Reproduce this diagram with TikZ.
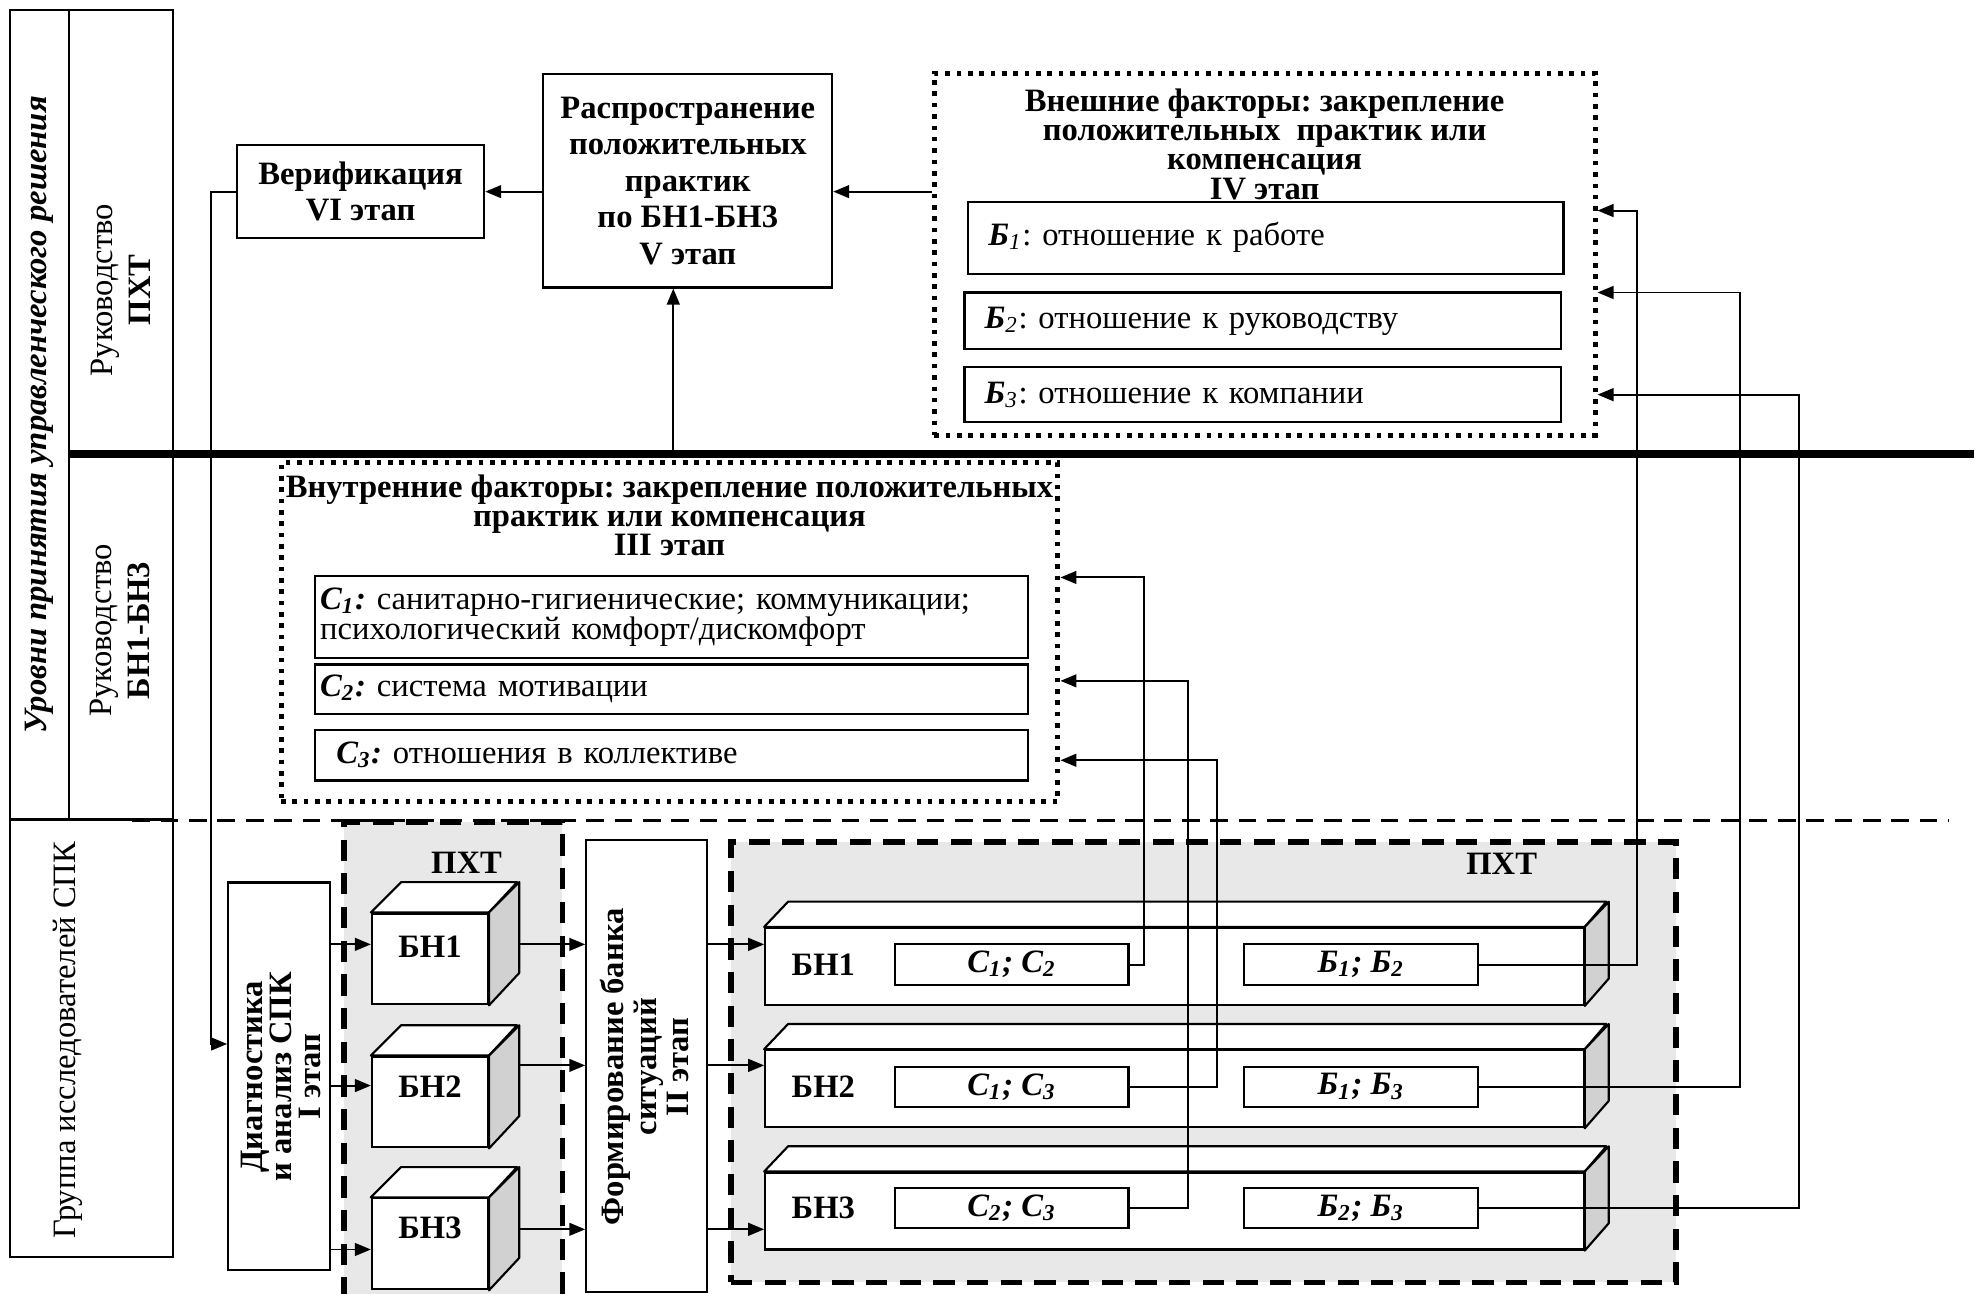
\documentclass[tikz,border=0pt]{standalone}
\usepackage{fontspec}
\setmainfont{Liberation Serif}
\usetikzlibrary{arrows.meta,positioning,calc}
\newcommand{\bisym}[1]{\textbf{\textit{#1}}}
\frenchspacing

\begin{document}
\begin{tikzpicture}[
  x=0.0125cm,y=-0.0125cm,
  font=\fontsize{9.2}{10.3}\selectfont,
  stagebox/.style={draw,line width=0.6pt,align=center,inner sep=0pt,
    font=\fontsize{9.2}{10.3}\selectfont\bfseries},
  factbox/.style={draw,line width=0.6pt,align=left,inner ysep=0pt},
  dotbox/.style={draw,line width=1.4pt,dash pattern=on 1.3pt off 1.9pt},
  zone/.style={draw,fill=black!9,line width=1.6pt,dash pattern=on 6pt off 3.5pt},
  cubefront/.style={draw,fill=white,line width=0.6pt,inner sep=0pt},
  cubetop/.style={draw,fill=white,line width=0.6pt,line join=round},
  cubeside/.style={draw,fill=black!18,line width=0.6pt,line join=round},
  tag/.style={font=\fontsize{9.2}{10.3}\selectfont\bfseries},
  sitbox/.style={draw,fill=white,line width=0.6pt,minimum width=2.3125cm,
    minimum height=0.4cm,inner sep=0pt,font=\fontsize{9.2}{10.3}\selectfont\bfseries\itshape},
  arr/.style={-{Triangle[length=4.5pt,width=3.6pt]},line width=0.55pt},
  sepline/.style={line width=0.9pt,dash pattern=on 5pt off 3pt}
]
  \useasboundingbox (0,0) rectangle (1568,1026);

  % levels column
  \draw[line width=0.6pt] (8,8) rectangle (137,997);
  \draw[line width=0.6pt] (55,8) -- (55,650) (8,650) -- (137,650);
  \node[rotate=90,font=\fontsize{9.2}{10.3}\selectfont\bfseries\itshape] (levels) at (31,329)
    {Уровни принятия управленческого решения};
  \node[rotate=90,align=center,font=\fontsize{9.2}{10.6}\selectfont] (lvlpxt) at (96,230)
    {Руководство\\\textbf{ПХТ}};
  \node[rotate=90,align=center,font=\fontsize{9.2}{10.6}\selectfont] (lvlbn) at (95,500)
    {Руководство\\\textbf{БН1-БН3}};
  \node[rotate=90] (lvlgrp) at (54,825) {Группа исследователей СПК};

  % level borders
  \draw[line width=2.2pt] (55,360) -- (1566,360);
  \draw[sepline] (105,651) -- (1545,651);

  % shaded zones
  \node[zone,minimum width=2.1625cm,minimum height=4.85cm] (zone1) at (359.5,846) {};
  \node[tag] (zone1l) at (370,684) {ПХТ};
  \node[zone,minimum width=9.3625cm,minimum height=4.3625cm] (zone2) at (954.5,842.5) {};
  \node[tag] (zone2l) at (1191,685) {ПХТ};

  % stages V and VI
  \node[stagebox,minimum width=2.45cm,minimum height=0.925cm] (verif) at (286,152)
    {Верификация\\VI этап};
  \node[stagebox,minimum width=2.8625cm,minimum height=2.1125cm] (distr) at (545.5,143.5)
    {Распространение\\положительных\\практик\\по БН1-БН3\\V этап};

  % external factors, stage IV
  \node[dotbox,minimum width=6.55cm,minimum height=3.5875cm] (ext) at (1003,201.5) {};
  \node[font=\fontsize{9.2}{8.2}\selectfont\bfseries,align=center] (extl) at (1003,114.5)
    {Внешние факторы: закрепление\\положительных\ \ практик или\\компенсация\\IV этап};
  \node[factbox,text width=5.5cm,inner xsep=0.2cm,minimum height=0.7125cm] (b1) at (1004,188.5)
    {\bisym{Б}\textsubscript{\textit{1}}: отношение к работе};
  \node[factbox,text width=5.5125cm,inner xsep=0.2cm,minimum height=0.5625cm] (b2) at (1001.5,254.5)
    {\bisym{Б}\textsubscript{\textit{2}}: отношение к руководству};
  \node[factbox,text width=5.5125cm,inner xsep=0.2cm,minimum height=0.55cm] (b3) at (1001.5,313)
    {\bisym{Б}\textsubscript{\textit{3}}: отношение к компании};

  % internal factors, stage III
  \node[dotbox,minimum width=7.7cm,minimum height=3.3625cm] (int) at (531,501.5) {};
  \node[font=\fontsize{9.2}{8.2}\selectfont\bfseries,align=center] (intl) at (531,409)
    {Внутренние факторы: закрепление положительных\\практик или компенсация\\III этап};
  \node[factbox,text width=6.9625cm,inner xsep=0.05cm,minimum height=0.8125cm,
    font=\fontsize{9.2}{8.6}\selectfont] (c1) at (532.5,489.5)
    {\bisym{С\textsubscript{1}:} санитарно-гигиенические; коммуникации;\\психологический комфорт/дискомфорт};
  \node[factbox,text width=6.9625cm,inner xsep=0.05cm,minimum height=0.4875cm] (c2) at (532.5,546.5)
    {\bisym{С\textsubscript{2}:} система мотивации};
  \node[factbox,text width=6.6425cm,inner xsep=0.21cm,minimum height=0.5cm] (c3) at (532.5,599)
    {\bisym{С\textsubscript{3}:} отношения в коллективе};

  % stage I
  \node[draw,line width=0.6pt,minimum width=1.0125cm,minimum height=3.8375cm] (diag) at (221.5,853.5) {};
  \node[rotate=90,align=center,font=\fontsize{9.2}{8.2}\selectfont\bfseries] (diagl) at (223,854)
    {Диагностика\\и анализ СПК\\I этап};

  % cubes
  \node[cubefront,minimum width=1.15cm,minimum height=0.9cm] (cube1) at (341,760.5) {};
  \node[cubefront,minimum width=1.15cm,minimum height=0.9cm] (cube2) at (341,874) {};
  \node[cubefront,minimum width=1.15cm,minimum height=0.9cm] (cube3) at (341,986.5) {};
  \foreach \c in {cube1,cube2,cube3}{
    \draw[cubetop] (\c.north west) -- ++(24,-24) -- ++(92,0) -- (\c.north east) -- cycle;
    \draw[cubeside] (\c.north east) -- ++(24,-24) -- ++(0,72) -- (\c.south east) -- cycle;
  }
  \node[tag] (cube1l) at (341,751) {БН1};
  \node[tag] (cube2l) at (341,862) {БН2};
  \node[tag] (cube3l) at (341,974) {БН3};

  % stage II
  \node[draw,line width=0.6pt,minimum width=1.2cm,minimum height=4.4875cm] (form) at (513,845.5) {};
  \node[rotate=90,align=center,font=\fontsize{9.2}{7}\selectfont\bfseries] (forml) at (511,846)
    {Формирование банка\\ситуаций\\II этап};

  % situation bank
  \node[cubefront,minimum width=8.1125cm,minimum height=0.7625cm] (long1) at (931.5,766.5) {};
  \node[cubefront,minimum width=8.1125cm,minimum height=0.7625cm] (long2) at (931.5,863.5) {};
  \node[cubefront,minimum width=8.1125cm,minimum height=0.7625cm] (long3) at (931.5,960.5) {};
  \foreach \c in {long1,long2,long3}{
    \draw[cubetop] (\c.north west) -- ++(19,-20) -- ++(649,0) -- (\c.north east) -- cycle;
    \draw[cubeside] (\c.north east) -- ++(19,-20) -- ++(0,61) -- (\c.south east) -- cycle;
  }
  \node[tag] (long1l) at (653,765) {БН1};
  \node[tag] (long2l) at (653,862) {БН2};
  \node[tag] (long3l) at (653,958) {БН3};
  \node[sitbox] (s1c) at (802.5,765) {С\textsubscript{1}; С\textsubscript{2}};
  \node[sitbox] (s1b) at (1079.5,765) {Б\textsubscript{1}; Б\textsubscript{2}};
  \node[sitbox] (s2c) at (802.5,862) {С\textsubscript{1}; С\textsubscript{3}};
  \node[sitbox] (s2b) at (1079.5,862) {Б\textsubscript{1}; Б\textsubscript{3}};
  \node[sitbox] (s3c) at (802.5,958) {С\textsubscript{2}; С\textsubscript{3}};
  \node[sitbox] (s3b) at (1079.5,958) {Б\textsubscript{2}; Б\textsubscript{3}};

  % flow levels
  \coordinate (in1) at (0,749);
  \coordinate (in2) at (0,861);
  \coordinate (in3) at (0,991);
  \coordinate (out2) at (0,845);
  \coordinate (out3) at (0,975);
  \draw[arr] (diag.east |- in1) -- (cube1.west |- in1);
  \draw[arr] (diag.east |- in2) -- (cube2.west |- in2);
  \draw[arr] (diag.east |- in3) -- (cube3.west |- in3);
  \draw[arr] ($(cube1.east |- in1)+(24,0)$) -- (form.west |- in1);
  \draw[arr] ($(cube2.east |- out2)+(24,0)$) -- (form.west |- out2);
  \draw[arr] ($(cube3.east |- out3)+(24,0)$) -- (form.west |- out3);
  \draw[arr] (form.east |- in1) -- (long1.west |- in1);
  \draw[arr] (form.east |- out2) -- (long2.west |- out2);
  \draw[arr] (form.east |- out3) -- (long3.west |- out3);

  % upper links
  \draw[arr] (distr.west |- verif.east) -- (verif.east);
  \draw[arr] (ext.west |- verif.east) -- (distr.east |- verif.east);
  \coordinate (lvl) at (534,360);
  \draw[arr] (lvl) -- (lvl |- distr.south);
  \coordinate (tv) at (167,828);
  \draw[arr] (verif.west) -| (tv) -- (tv -| diag.west);

  % feedback to factors
  \coordinate (tc1) at (907,458);
  \coordinate (tc2) at (942,540);
  \coordinate (tc3) at (965,603);
  \draw[arr] (s1c.east) -| (tc1) -- (tc1 -| int.east);
  \draw[arr] (s2c.east) -| (tc3) -- (tc3 -| int.east);
  \draw[arr] (s3c.east) -| (tc2) -- (tc2 -| int.east);
  \coordinate (tb1) at (1298,167);
  \coordinate (tb2) at (1380,232);
  \coordinate (tb3) at (1427,313);
  \draw[arr] (s1b.east) -| (tb1) -- (tb1 -| ext.east);
  \draw[arr] (s2b.east) -| (tb2) -- (tb2 -| ext.east);
  \draw[arr] (s3b.east) -| (tb3) -- (tb3 -| ext.east);
\end{tikzpicture}
\end{document}
